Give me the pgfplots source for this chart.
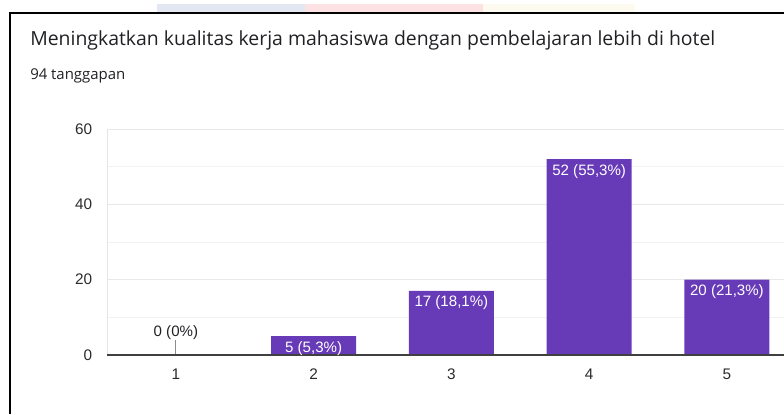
\documentclass[border=0pt]{standalone}
\usepackage{fontspec}
\setmainfont{Liberation Sans}
\newfontfamily\titlefont{Open Sans}
\usepackage{pgfplots}
\pgfplotsset{compat=1.18}
\definecolor{barc}{HTML}{673AB7}
\definecolor{txt}{HTML}{202124}
\definecolor{tick}{HTML}{2b2b2b}
\begin{document}
\begin{tikzpicture}
\useasboundingbox (0,0) rectangle (588pt,310.5pt);
% faint strip above frame
\fill[color={rgb,255:red,226;green,231;blue,241}] (117.75pt,300.75pt) rectangle (228.75pt,307.5pt);
\fill[color={rgb,255:red,252;green,226;blue,226}] (228.75pt,300.75pt) rectangle (362.25pt,307.5pt);
\fill[color={rgb,255:red,253;green,250;blue,240}] (362.25pt,300.75pt) rectangle (476.25pt,307.5pt);
\draw[black, line width=1.3pt] (7.5pt,0pt) -- (7.5pt,300.75pt) -- (590pt,300.75pt);
\node[anchor=base west, inner sep=0pt, color=txt] at (22.5pt,276pt)
  {\resizebox{513.75pt}{!}{\titlefont Meningkatkan kualitas kerja mahasiswa dengan pembelajaran lebih di hotel}};
\node[anchor=base west, inner sep=0pt, color=txt] at (22.5pt,250.5pt)
  {\resizebox{71.25pt}{!}{\titlefont 94 tanggapan}};
\begin{axis}[
  at={(80.25pt,44.25pt)}, anchor=south west,
  scale only axis, width=516.6pt, height=169.5pt,
  xmin=0.5, xmax=5.5, ymin=0, ymax=60,
  axis lines*=left,
  x axis line style={draw=none},
  y axis line style={draw=black!10},
  xtick={1,2,3,4,5}, xticklabels={1,2,3,4,5},
  ytick={0,20,40,60}, minor ytick={10,30,50},
  ymajorgrids, yminorgrids,
  major grid style={draw=black!9, line width=0.6pt},
  minor grid style={draw=black!5, line width=0.6pt},
  major tick length=0pt, minor tick length=0pt,
  tick label style={font=\fontsize{11.5}{13}\selectfont, color=tick},
  /pgf/number format/assume math mode=true,
  yticklabel style={anchor=east, inner sep=0pt, xshift=-11pt},
  xticklabel style={anchor=north, inner sep=0pt, yshift=-10.5pt},
  clip=false,
]
\addplot[ybar, bar width=63.75pt, fill=barc, draw=none,
  nodes near coords, point meta=explicit symbolic,
  every node near coord/.style={anchor=center, yshift=-9pt, color=white, font=\fontsize{11.3}{13}\selectfont}]
  coordinates {(2,5) [5 (5,3\%)] (3,17) [17 (18,1\%)] (4,52) [52 (55,3\%)] (5,20) [20 (21,3\%)]};
\addplot[color=black!45, line width=0.6pt, mark=none] coordinates {(1,0) (1,4)};
\addplot[draw=none, mark=none,
  nodes near coords, point meta=explicit symbolic,
  every node near coord/.style={anchor=center, yshift=16.5pt, color=txt, font=\fontsize{11.3}{13}\selectfont}]
  coordinates {(1,0) [0 (0\%)]};
\addplot[color=black!75, line width=0.8pt, mark=none] coordinates {(0.5,0) (5.5,0)};
\end{axis}
\end{tikzpicture}
\end{document}
